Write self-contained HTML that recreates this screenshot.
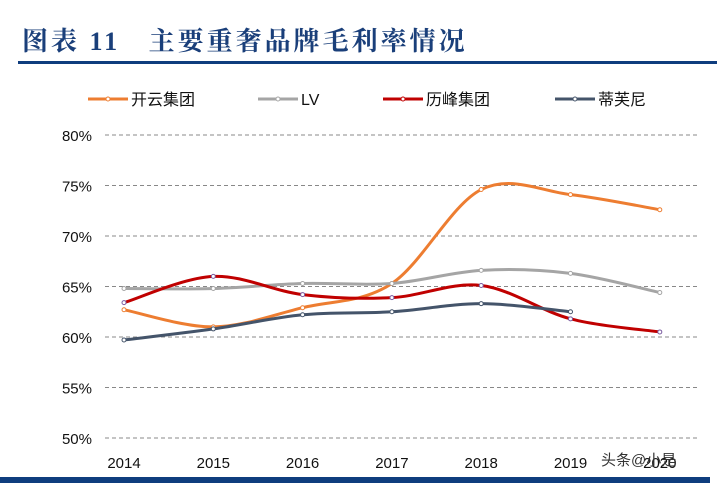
<!DOCTYPE html>
<html><head><meta charset="utf-8"><style>
body{margin:0;background:#fff;width:717px;height:483px;overflow:hidden;font-family:"Liberation Sans","Noto Sans CJK SC",sans-serif}
</style></head><body>
<svg width="717" height="483">
<text x="22" y="50" font-family="'Liberation Serif','Noto Serif CJK SC',serif" font-weight="bold" font-size="26" letter-spacing="3" fill="#1a3f7a">图表 11&#160;&#160;&#160;主要重奢品牌毛利率情况</text>
<rect x="18" y="61" width="699" height="3" fill="#0f3d7e"/>
<rect x="0" y="477" width="710" height="6" fill="#0f3d7e"/>
<g id="grid"></g><g id="series"></g><g id="legend"></g>
<text x="601" y="465" font-size="15" fill="#333">头条@小是</text>
</svg>
<script>
const years=["2014","2015","2016","2017","2018","2019","2020"];
const ticks=[50,55,60,65,70,75,80];
const kering=[62.7,61.0,62.9,65.3,74.6,74.1,72.6];
const lv=[64.8,64.8,65.3,65.3,66.6,66.3,64.4];
const richemont=[63.4,66.0,64.2,63.9,65.1,61.8,60.5];
const tiffany=[59.7,60.8,62.2,62.5,63.3,62.5,null];
const names=["开云集团","LV","历峰集团","蒂芙尼"];
const colors=["#ed7d31","#a5a5a5","#c00000","#44546a"];
const NS="http://www.w3.org/2000/svg";
const x=i=>124+i*89.3;
const y=v=>438-(v-50)*10.1;
function mk(t,a,p){const e=document.createElementNS(NS,t);for(const k in a)e.setAttribute(k,a[k]);p.appendChild(e);return e;}
const grid=document.getElementById('grid');
ticks.forEach(t=>{
 const l=mk('line',{x1:105,x2:700,y1:y(t),y2:y(t),stroke:'#888','stroke-dasharray':'4,3','stroke-width':1},grid);
 
 
 const tx=mk('text',{x:92,y:y(t)+6,'text-anchor':'end','font-size':15,fill:'#111'},grid);
 tx.textContent=t+'%';
 
 
});
years.forEach((yr,i)=>{
 const tx=mk('text',{x:x(i),y:468,'text-anchor':'middle','font-size':15,fill:'#111'},grid);
 tx.textContent=yr;
 
 
});
function path(pts){
 let d='M'+pts[0][0]+','+pts[0][1];
 for(let i=0;i<pts.length-1;i++){
  const p0=pts[i-1]||pts[i],p1=pts[i],p2=pts[i+1],p3=pts[i+2]||p2;
  const c1=[p1[0]+(p2[0]-p0[0])/6,p1[1]+(p2[1]-p0[1])/6];
  const c2=[p2[0]-(p3[0]-p1[0])/6,p2[1]-(p3[1]-p1[1])/6];
  d+=' C'+c1+' '+c2+' '+p2;
 }
 return d;
}
const sg=document.getElementById('series');
[kering,lv,richemont,tiffany].forEach((s,k)=>{
 const pts=[];s.forEach((v,i)=>{if(v!=null)pts.push([x(i),y(v)]);});
 const p=mk('path',{d:path(pts),fill:'none',stroke:colors[k],'stroke-width':3},sg);
 
 
 pts.forEach(pt=>{
  const c=mk('circle',{cx:pt[0],cy:pt[1],r:2,fill:'#fff',stroke:k==2?'#7a5aa0':colors[k],'stroke-width':1},sg);
  
  
 });
});
const lg=document.getElementById('legend');
const lx=[88,258,383,555];
names.forEach((n,k)=>{
 const l=mk('line',{x1:lx[k],x2:lx[k]+40,y1:99,y2:99,stroke:colors[k],'stroke-width':3},lg);
 
 
 const c=mk('circle',{cx:lx[k]+20,cy:99,r:2,fill:'#fff',stroke:colors[k],'stroke-width':1},lg);
 
 
 const t=mk('text',{x:lx[k]+43,y:105,'font-size':16,fill:'#111'},lg);
 t.textContent=n;
 
 
});
</script>
</body></html>
